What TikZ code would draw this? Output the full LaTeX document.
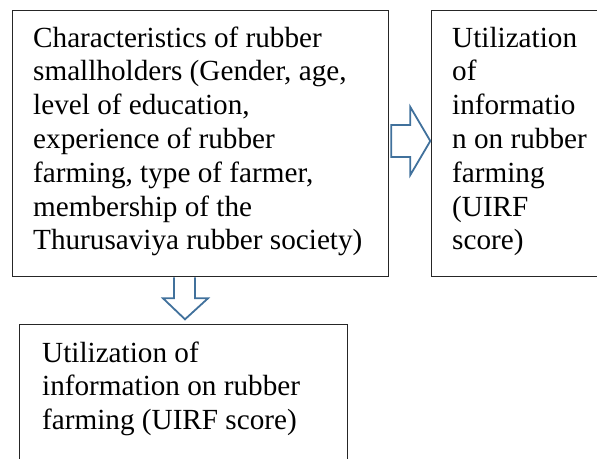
\documentclass[tikz,border=0pt]{standalone}
\usepackage{fontspec}
\setmainfont{Liberation Serif}
\begin{document}
\begin{tikzpicture}[x=1bp,y=-1bp,
  box/.style={draw=black!85, line width=1.3bp, fill=white, inner sep=0pt, anchor=north west},
  txt/.style={inner sep=0pt, anchor=north west, align=left,
    font=\fontsize{29.2bp}{33.8bp}\selectfont},
  blockarrow/.style={draw=arrowblue, line width=1.8bp, line join=miter, fill=white}]
\definecolor{arrowblue}{HTML}{41719C}
\useasboundingbox (0,0) rectangle (597,459);
\clip (0,0) rectangle (597,459);

% boxes
\node[box, minimum width=376bp, minimum height=266bp] (chars) at (12,10) {};
\node[box, minimum width=200bp, minimum height=266bp] (uirfright) at (431,10) {};
\node[box, minimum width=328bp, minimum height=160bp] (uirfdown) at (19,324) {};

% texts
\node[txt] (charstext) at ([shift={(21,13.3)}]chars.north west)
  {\strut Characteristics of rubber\\
   smallholders (Gender, age,\\
   level of education,\\
   experience of rubber\\
   farming, type of farmer,\\
   membership of the\\
   Thurusaviya rubber society)};
\node[txt] (righttext) at ([shift={(21,13.3)}]uirfright.north west)
  {\strut Utilization\\
   of\\
   informatio\\
   n on rubber\\
   farming\\
   (UIRF\\
   score)};
\node[txt] (downtext) at ([shift={(23,14.3)}]uirfdown.north west)
  {\strut Utilization of\\
   information on rubber\\
   farming (UIRF score)};

% block arrow to the right: chars -> uirfright
\coordinate (ra) at (chars.east |- 0,141);
\draw[blockarrow] ([shift={(2,-16)}]ra) -- ([shift={(21,-16)}]ra)
  -- ([shift={(21,-34)}]ra) -- ([shift={(41,0)}]ra)
  -- ([shift={(21,34)}]ra) -- ([shift={(21,16)}]ra)
  -- ([shift={(2,16)}]ra) -- cycle;
% block arrow downward: chars -> uirfdown
\coordinate (da) at (chars.south -| 185,0);
\draw[blockarrow] ([shift={(-11,0)}]da) -- ([shift={(-11,21)}]da)
  -- ([shift={(-22,21)}]da) -- ([shift={(0,42)}]da)
  -- ([shift={(23,21)}]da) -- ([shift={(10,21)}]da)
  -- ([shift={(10,0)}]da);
\end{tikzpicture}
\end{document}
